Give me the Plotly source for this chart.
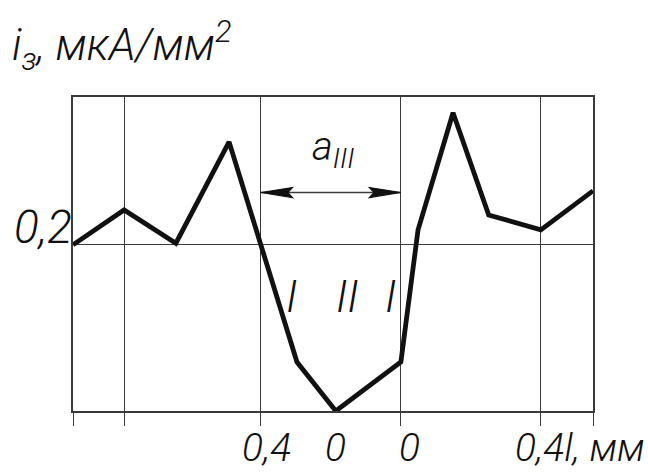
import plotly.graph_objects as go

# ---- data ----
x_mm = [-0.937, -0.791, -0.643, -0.491, -0.297, -0.186, 0.000, 0.049, 0.149, 0.251, 0.400, 0.549]
i_val = [0.200, 0.242, 0.202, 0.324, 0.059, 0.000, 0.059, 0.218, 0.359, 0.236, 0.218, 0.265]

grid_x = [-0.937, -0.791, -0.400, 0.000, 0.400, 0.549]
grid_y = [0.0, 0.2]
y_top = 0.378

x_label_pos = [-0.385, -0.186, 0.026]
x_label_txt = ["0,4", "0", "0"]
x_last_label_pos = 0.320
x_last_label_txt = "0,4<i>l</i>, мм"

zone_label_pos = [-0.314, -0.154, -0.031]
zone_label_txt = ["I", "II", "I"]
zone_label_y = 0.137

arrow_y = 0.263
arrow_from = grid_x[2]
arrow_to = grid_x[3]

FONT = "Roboto, Open Sans, DejaVu Sans, sans-serif"
INK = "#111111"
GRID = "#3a3a3a"

W, H = 648, 473
L, R, T, B = 73, 55, 97, 62

def px_x(px):
    return (px - L) / (W - L - R)

def px_y(py):
    return (H - B - py) / (H - T - B)

fig = go.Figure()
fig.add_trace(go.Scatter(x=x_mm, y=i_val, mode="lines",
                         line=dict(color=INK, width=4.8), hoverinfo="skip"))

shapes = []
# dimension line with arrows
shapes.append(dict(type="line", xref="x", yref="y", x0=arrow_from, x1=arrow_to,
                   y0=arrow_y, y1=arrow_y, line=dict(color=GRID, width=1.4)))
alen = 0.09
ah = 0.006
for tip, d in [(arrow_from, 1), (arrow_to, -1)]:
    p = (f"M {tip},{arrow_y} L {tip + d*alen},{arrow_y + ah} "
         f"L {tip + d*alen*0.85},{arrow_y} L {tip + d*alen},{arrow_y - ah} Z")
    shapes.append(dict(type="path", xref="x", yref="y", path=p,
                       fillcolor=INK, line=dict(color=INK, width=1.2)))

ann = []
def txt(text, x, y, size, xref="x", yref="y", xanchor="center", yanchor="middle"):
    ann.append(dict(text=text, x=x, y=y, xref=xref, yref=yref, showarrow=False,
                    xanchor=xanchor, yanchor=yanchor,
                    font=dict(family=FONT, size=size, color=INK, style="italic",
                              weight=300)))

# y-axis title
txt("<i>i</i><sub>з</sub>, мкА/мм<sup>2</sup>", px_x(10), px_y(45), 44,
    xref="paper", yref="paper", xanchor="left")
# 0,2 label
txt("0,2", px_x(74), px_y(256), 46, xref="paper", yref="paper",
    yanchor="bottom", xanchor="right")
# bottom labels
for xp, t in zip(x_label_pos, x_label_txt):
    txt(t, xp, px_y(473), 39, yref="paper", yanchor="bottom")
txt(x_last_label_txt, x_last_label_pos, px_y(473), 39, yref="paper",
    xanchor="left", yanchor="bottom")
# zone labels
for xp, t in zip(zone_label_pos, zone_label_txt):
    txt(t, xp, zone_label_y, 44)
# a_III
txt("a<sub>III</sub>", -0.26, 0.315, 40, xanchor="left", yanchor="middle")

fig.update_layout(
    width=W, height=H,
    margin=dict(l=L, r=R, t=T, b=B),
    paper_bgcolor="white", plot_bgcolor="white",
    showlegend=False,
    shapes=shapes, annotations=ann,
    xaxis=dict(range=[grid_x[0], grid_x[-1]], tickvals=grid_x, showticklabels=False,
               showgrid=True, gridcolor=GRID, gridwidth=1.3,
               ticks="outside", ticklen=13, tickwidth=1.3, tickcolor=GRID,
               showline=True, mirror=True, linecolor=GRID, linewidth=1.5,
               zeroline=False, fixedrange=True),
    yaxis=dict(range=[0, y_top], tickvals=grid_y, showticklabels=False,
               showgrid=True, gridcolor=GRID, gridwidth=1.3, ticks="",
               showline=True, mirror=True, linecolor=GRID, linewidth=1.5,
               zeroline=False, fixedrange=True),
)

fig.write_html("out.html", config={"displayModeBar": False})
